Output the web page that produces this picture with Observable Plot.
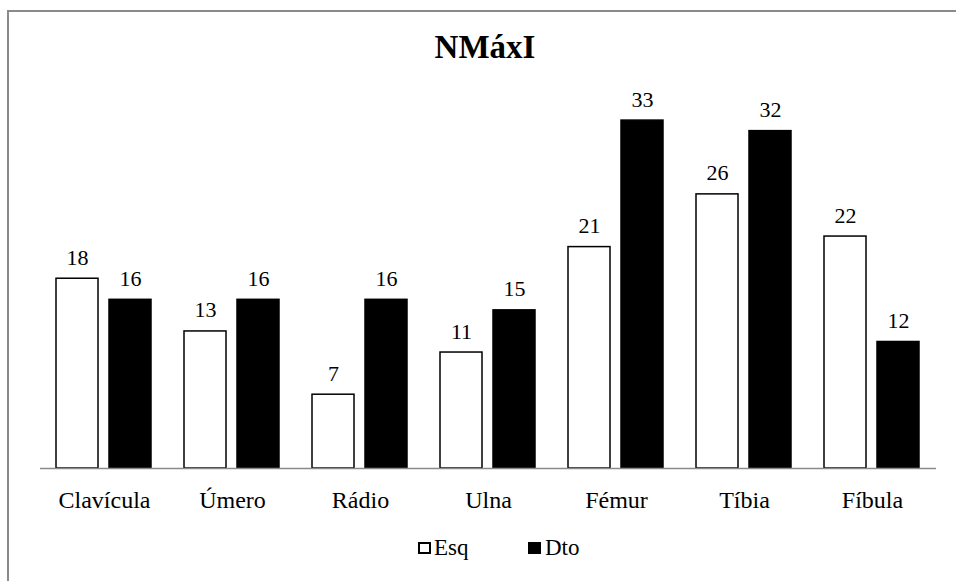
<!DOCTYPE html>
<html>
<head>
<meta charset="utf-8">
<script src="https://cdn.jsdelivr.net/npm/d3@7"></script>
<script src="https://cdn.jsdelivr.net/npm/@observablehq/plot@0.6"></script>
<style>
  html, body { margin: 0; padding: 0; background: #fff; }
  #wrap { position: relative; width: 956px; height: 581px; overflow: hidden; font-family: "Liberation Serif", serif; }
  #wrap svg, #wrap svg text, #wrap svg g { font-family: "Liberation Serif", serif !important; }
  #frame { position: absolute; left: 7px; top: 10px; width: 980px; height: 600px; border-left: 2px solid #8a8a8a; border-top: 2px solid #8a8a8a; box-sizing: border-box; }
  #title { position: absolute; left: 0; top: 28px; width: 970px; text-align: center; font-weight: bold; font-size: 33px; line-height: 38px; color: #000; font-family: "Liberation Serif", serif; }
  #chart { position: absolute; left: 0; top: 0; }
  #legend { position: absolute; top: 534px; left: 0; width: 956px; height: 28px; font-size: 23px; color: #000; font-family: "Liberation Serif", serif; }
  .sw { position: absolute; top: 8px; width: 13px; height: 12px; box-sizing: border-box; }
  .lab { position: absolute; top: 0; line-height: 28px; }
</style>
</head>
<body>
<div id="wrap">
  <div id="frame"></div>
  <div id="chart"></div>
  <div id="title">NMáxI</div>
  <div id="legend"></div>
</div>
<script>
const categories = ["Clavícula", "Úmero", "Rádio", "Ulna", "Fémur", "Tíbia", "Fíbula"];
const series = ["Esq", "Dto"];
const esqValues = [18, 13, 7, 11, 21, 26, 22];
const dtoValues = [16, 16, 16, 15, 33, 32, 12];
const seriesFill = {Esq: "#ffffff", Dto: "#000000"};

const data = [];
categories.forEach((c, i) => {
  data.push({cat: c, s: "Esq", v: esqValues[i]});
  data.push({cat: c, s: "Dto", v: dtoValues[i]});
});

const chart = Plot.plot({
  width: 956,
  height: 581,
  marginLeft: 37,
  marginRight: 18,
  marginTop: 99,
  marginBottom: 113,
  style: {fontFamily: "'Liberation Serif', serif", fontSize: "24px", background: "transparent", color: "#000"},
  fx: {domain: categories, padding: 0, axis: "bottom", label: null, tickSize: 0, tickPadding: 22},
  x: {domain: series, paddingInner: 0.2, paddingOuter: 0.3, axis: null},
  y: {domain: [0, 35], axis: null},
  marks: [
    Plot.barY(data, {fx: "cat", x: "s", y: "v", fill: d => seriesFill[d.s], stroke: "#000", strokeWidth: 1.5}),
    Plot.text(data, {fx: "cat", x: "s", y: "v", text: d => String(d.v), dy: -21, fontSize: 22, fill: "#000"}),
    Plot.ruleY([0], {stroke: "#8a8a8a", strokeWidth: 1.5})
  ]
});
chart.querySelectorAll("g[aria-label='fx-axis tick label']").forEach(el => { el.setAttribute("font-size", 24); el.style.fontSize = "24px"; });
document.getElementById("chart").appendChild(chart);

// legend built from series
const legend = document.getElementById("legend");
const legendPos = [{sw: 418, lab: 434}, {sw: 528, lab: 545}];
series.forEach((s, i) => {
  const sw = document.createElement("div");
  sw.className = "sw";
  sw.style.left = legendPos[i].sw + "px";
  sw.style.background = seriesFill[s];
  sw.style.border = "2px solid #000";
  legend.appendChild(sw);
  const lab = document.createElement("div");
  lab.className = "lab";
  lab.style.left = legendPos[i].lab + "px";
  lab.textContent = s;
  legend.appendChild(lab);
});
</script>
</body>
</html>
